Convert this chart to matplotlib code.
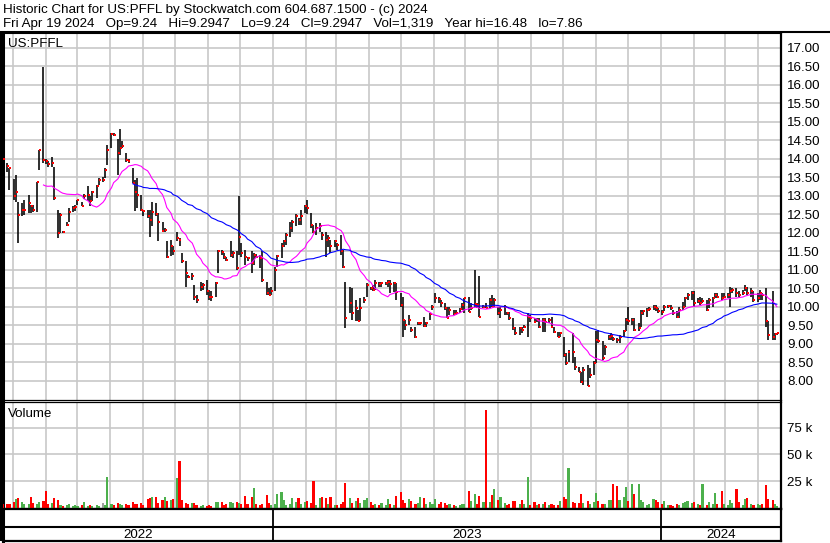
import numpy as np
import pandas as pd
import matplotlib
matplotlib.use("Agg")
import matplotlib.pyplot as plt
import matplotlib.dates as mdates
from matplotlib.patches import Rectangle

plt.rcParams['font.family'] = ['Liberation Sans', 'DejaVu Sans']

# two-day bars, oldest first
high = [14.40, 14.02, 13.89, 13.75, 13.45, 13.58, 12.85, 12.80, 12.90, 13.04,
        12.76, 12.76, 13.38, 14.24, 16.48, 14.00, 13.95, 14.06, 13.77, 12.61,
        12.54, 12.05, 12.30, 12.67, 12.72, 12.75, 12.90, 12.84, 13.05, 13.27,
        13.00, 13.13, 13.30, 13.48, 13.52, 13.75, 14.39, 14.70, 14.70, 14.53,
        14.80, 14.48, 14.17, 13.99, 13.75, 13.43, 13.48, 13.04, 12.63, 12.63,
        12.63, 12.85, 12.81, 12.54, 12.31, 12.13, 11.77, 11.82, 11.64, 12.04,
        11.86, 11.46, 11.23, 10.86, 10.91, 10.60, 10.33, 10.68, 10.65, 10.73,
        10.46, 10.42, 10.68, 11.54, 11.54, 11.45, 11.36, 11.77, 11.50, 11.50,
        13.00, 11.72, 11.54, 11.36, 11.50, 11.45, 11.43, 11.41, 11.50, 10.68,
        10.50, 10.55, 11.09, 11.41, 11.72, 11.81, 12.00, 12.29, 12.36, 12.50,
        12.40, 12.63, 12.76, 12.90, 12.54, 12.22, 12.27, 12.27, 12.04, 12.04,
        11.95, 11.81, 11.81, 11.72, 11.95, 11.54, 10.68, 10.55, 10.50, 10.19,
        9.92, 10.24, 10.28, 10.64, 10.55, 10.60, 10.73, 10.68, 10.68, 10.68,
        10.72, 10.73, 10.68, 10.66, 10.37, 10.28, 9.65, 9.78, 9.47, 9.47,
        9.60, 9.60, 9.74, 9.60, 9.83, 10.05, 10.37, 10.28, 10.19, 10.10,
        10.01, 10.01, 9.92, 9.92, 9.96, 10.10, 10.23, 10.28, 10.10, 11.00,
        10.10, 10.84, 10.05, 10.10, 10.23, 10.32, 10.23, 10.01, 10.01, 10.05,
        9.87, 9.87, 9.69, 9.47, 9.47, 9.47, 9.51, 9.83, 9.78, 9.69,
        9.69, 9.69, 9.69, 9.69, 9.69, 9.74, 9.47, 9.33, 9.33, 9.20,
        8.75, 8.84, 9.29, 8.66, 8.39, 8.25, 8.39, 8.43, 8.34, 8.53,
        9.34, 9.38, 9.07, 8.98, 9.25, 9.29, 9.20, 9.16, 9.25, 9.38,
        9.70, 10.01, 9.70, 9.70, 9.56, 9.92, 9.92, 9.97, 10.01, 10.05,
        10.05, 9.97, 9.92, 10.05, 10.05, 10.05, 9.92, 9.88, 10.01, 10.14,
        10.28, 10.37, 10.42, 10.42, 10.24, 10.28, 10.24, 10.19, 10.24, 10.28,
        10.37, 10.37, 10.37, 10.37, 10.37, 10.55, 10.51, 10.51, 10.42, 10.46,
        10.60, 10.55, 10.51, 10.42, 10.37, 10.46, 10.37, 10.51, 9.61, 10.42,
        9.29, 9.2947]
low = [14.20, 13.75, 13.66, 13.16, 12.90, 12.85, 11.72, 12.45, 12.49, 12.54,
       12.54, 12.58, 12.58, 13.70, 13.90, 13.86, 13.77, 13.77, 12.90, 11.86,
       12.00, 11.99, 12.19, 12.30, 12.58, 12.60, 12.76, 12.72, 12.92, 12.86,
       12.73, 12.86, 12.95, 13.30, 13.39, 13.48, 13.84, 14.30, 14.62, 13.56,
       14.12, 14.30, 13.93, 13.90, 13.34, 12.59, 12.68, 12.59, 12.45, 12.40,
       11.90, 12.18, 12.45, 11.77, 12.04, 12.04, 11.32, 11.37, 11.41, 11.77,
       11.64, 11.18, 10.54, 10.77, 10.72, 10.19, 10.10, 10.42, 10.45, 10.33,
       10.19, 10.15, 10.28, 10.91, 11.41, 11.30, 11.23, 11.36, 11.32, 11.00,
       11.41, 11.36, 11.14, 11.23, 10.91, 11.14, 11.32, 11.05, 10.68, 10.32,
       10.32, 10.32, 10.42, 11.09, 11.32, 11.63, 11.68, 11.90, 12.04, 12.18,
       12.22, 12.22, 12.54, 12.50, 12.13, 12.00, 11.95, 12.04, 11.81, 11.36,
       11.63, 11.45, 11.63, 11.54, 11.41, 11.05, 9.43, 9.83, 9.65, 9.61,
       9.61, 9.61, 10.10, 10.28, 10.46, 10.42, 10.46, 10.55, 10.55, 10.60,
       10.55, 10.37, 10.41, 10.19, 10.01, 9.20, 9.38, 9.51, 9.33, 9.15,
       9.51, 9.51, 9.47, 9.47, 9.65, 9.92, 10.10, 10.10, 10.01, 9.92,
       9.69, 9.78, 9.78, 9.78, 9.83, 9.92, 9.83, 9.87, 9.92, 10.01,
       9.96, 9.74, 9.96, 9.96, 9.96, 10.01, 10.01, 9.78, 9.69, 9.78,
       9.78, 9.65, 9.38, 9.24, 9.24, 9.29, 9.42, 9.20, 9.60, 9.56,
       9.60, 9.42, 9.33, 9.33, 9.56, 9.42, 9.29, 9.20, 9.20, 8.66,
       8.43, 8.52, 8.48, 8.30, 8.25, 7.94, 7.89, 7.86, 8.08, 8.17,
       8.48, 9.02, 8.57, 8.71, 9.11, 9.11, 9.07, 9.02, 9.02, 9.20,
       9.34, 9.52, 9.52, 9.34, 9.34, 9.47, 9.79, 9.74, 9.88, 9.92,
       9.88, 9.83, 9.79, 9.88, 9.97, 9.92, 9.79, 9.70, 9.70, 9.92,
       10.01, 10.19, 10.19, 10.01, 10.10, 10.05, 10.10, 9.88, 9.97, 10.01,
       10.24, 10.24, 10.19, 10.24, 10.24, 10.01, 10.37, 10.28, 10.28, 10.33,
       10.42, 10.33, 10.28, 10.14, 10.14, 10.19, 10.19, 9.47, 9.11, 9.11,
       9.11, 9.24]
close = [14.34, 14.00, 13.80, 13.75, 12.99, 13.10, 12.49, 12.62, 12.63, 12.81,
         12.72, 12.63, 13.38, 14.24, 13.96, 13.95, 13.86, 13.90, 12.94, 12.00,
         12.49, 12.02, 12.21, 12.58, 12.67, 12.70, 12.90, 12.73, 13.00, 13.03,
         12.86, 13.10, 13.26, 13.44, 13.44, 13.70, 14.24, 14.68, 14.66, 14.17,
         14.30, 14.35, 13.98, 13.94, 13.34, 13.12, 13.04, 12.63, 12.59, 12.45,
         12.36, 12.58, 12.50, 12.31, 12.06, 12.09, 11.36, 11.64, 11.50, 11.86,
         11.82, 11.23, 10.91, 10.82, 10.84, 10.28, 10.19, 10.55, 10.60, 10.42,
         10.28, 10.26, 10.64, 11.50, 11.48, 11.35, 11.27, 11.41, 11.45, 11.05,
         11.90, 11.45, 11.36, 11.32, 11.18, 11.41, 11.36, 11.32, 10.73, 10.37,
         10.33, 10.42, 11.00, 11.37, 11.64, 11.77, 11.95, 12.13, 12.31, 12.45,
         12.36, 12.45, 12.72, 12.67, 12.22, 12.04, 12.13, 12.18, 11.95, 11.81,
         11.86, 11.64, 11.77, 11.68, 11.50, 11.09, 9.69, 10.10, 9.83, 9.96,
         9.61, 9.96, 10.19, 10.60, 10.50, 10.46, 10.64, 10.62, 10.64, 10.66,
         10.67, 10.62, 10.64, 10.41, 10.05, 9.65, 9.51, 9.65, 9.38, 9.18,
         9.56, 9.58, 9.49, 9.56, 9.81, 10.01, 10.23, 10.21, 10.10, 9.96,
         9.69, 9.92, 9.81, 9.83, 9.94, 10.05, 10.23, 9.87, 9.96, 10.08,
         10.05, 9.74, 10.01, 9.98, 10.19, 10.01, 10.19, 9.83, 9.92, 10.01,
         9.83, 9.69, 9.42, 9.29, 9.42, 9.38, 9.45, 9.74, 9.69, 9.60,
         9.65, 9.47, 9.65, 9.60, 9.65, 9.47, 9.33, 9.20, 9.29, 8.70,
         8.48, 8.79, 8.77, 8.39, 8.25, 7.98, 8.30, 7.87, 8.16, 8.48,
         9.11, 9.07, 8.62, 8.93, 9.20, 9.22, 9.13, 9.11, 9.20, 9.34,
         9.65, 9.61, 9.65, 9.38, 9.43, 9.83, 9.88, 9.92, 9.94, 10.01,
         9.97, 9.88, 9.86, 10.01, 10.03, 9.97, 9.83, 9.74, 9.92, 10.01,
         10.24, 10.33, 10.37, 10.10, 10.15, 10.12, 10.15, 9.92, 10.19, 10.24,
         10.33, 10.28, 10.24, 10.28, 10.33, 10.42, 10.46, 10.37, 10.33, 10.37,
         10.51, 10.37, 10.42, 10.19, 10.24, 10.37, 10.33, 9.61, 9.25, 9.20,
         9.27, 9.2947]
volume = [10000, 3000, 3000, 3000, 5000, 8000, 9000, 5000, 3000, 3000,
          10000, 4000, 3000, 5000, 6000, 16000, 3000, 4000, 9000, 7000,
          2000, 1000, 2000, 3000, 1000, 2000, 1000, 2000, 5000, 1000,
          2000, 1000, 2000, 1000, 4000, 2000, 29000, 3000, 2000, 4000,
          3000, 2000, 3000, 2000, 5000, 3000, 3000, 4000, 2000, 8000,
          9000, 10000, 10000, 4000, 7000, 10000, 6000, 7000, 8000, 28000,
          44000, 7000, 4000, 3000, 4000, 4000, 2000, 1000, 2000, 1000,
          2000, 1000, 5000, 5000, 5000, 2000, 3000, 5000, 4000, 5000,
          4000, 3000, 11000, 3000, 10000, 18000, 3000, 2000, 3000, 12000,
          4000, 2000, 3000, 13000, 15000, 7000, 2000, 3000, 9000, 5000,
          9000, 3000, 5000, 6000, 4000, 25000, 2000, 9000, 10000, 9000,
          3000, 10000, 2000, 2000, 3000, 5000, 23000, 9000, 4000, 6000,
          9000, 4000, 7000, 9000, 5000, 2000, 3000, 2000, 4000, 2000,
          8000, 3000, 2000, 11000, 15000, 7000, 4000, 8000, 6000, 3000,
          4000, 10000, 9000, 3000, 5000, 3000, 8000, 3000, 5000, 4000,
          2000, 3000, 2000, 1000, 2000, 3000, 3000, 16000, 6000, 13000,
          3000, 11000, 5000, 92000, 5000, 12000, 17000, 7000, 10000, 4000,
          2000, 3000, 6000, 6000, 3000, 7000, 3000, 29000, 2000, 5000,
          2000, 3000, 3000, 5000, 2000, 3000, 2000, 2000, 6000, 10000,
          8000, 37000, 5000, 4000, 4000, 13000, 4000, 6000, 3000, 5000,
          14000, 6000, 3000, 3000, 7000, 7000, 22000, 20000, 7000, 10000,
          19000, 6000, 22000, 13000, 22000, 7000, 5000, 2000, 3000, 8000,
          7000, 5000, 3000, 6000, 2000, 2000, 1000, 3000, 2000, 4000,
          5000, 6000, 4000, 5000, 3000, 2000, 22000, 2000, 5000, 3000,
          14000, 3000, 16000, 3000, 2000, 7000, 4000, 17000, 5000, 2000,
          8000, 9000, 3000, 2000, 3000, 2000, 3000, 21000, 8000, 7000,
          3000, 1319]

price_ticks = np.arange(8.0, 17.01, 0.5)
vol_ticks = [25000, 50000, 75000]
vol_labels = ["25 k", "50 k", "75 k"]
years = ["2022", "2023", "2024"]

title1 = "Historic Chart for US:PFFL by Stockwatch.com 604.687.1500 - (c) 2024"
title2 = ("Fri Apr 19 2024   Op=9.24   Hi=9.2947   Lo=9.24   Cl=9.2947   "
          "Vol=1,319   Year hi=16.48   lo=7.86")

FS = 9.6

dates = pd.bdate_range(end="2024-04-19", periods=len(close), freq="2B")
s = pd.Series(close, index=dates)
ma_short = s.rolling(15).mean()
ma_long = s.rolling(45).mean()

c = np.asarray(close)
prev = np.r_[c[0], c[:-1]]
vol_colors = np.where(c > prev, "#4CB04C", np.where(c < prev, "#FF0000", "#A0A0A0"))

W, H = 830, 543
fig = plt.figure(figsize=(W / 100, H / 100), dpi=100)
fig.patch.set_facecolor("white")

def frac(x0, y0, x1, y1):
    return [x0 / W, 1 - y1 / H, (x1 - x0) / W, (y1 - y0) / H]

ax = fig.add_axes(frac(3, 33, 781, 400))
axv = fig.add_axes(frac(3, 402, 781, 509))
axd = fig.add_axes(frac(3, 509, 781, 541))

x0 = pd.Timestamp("2022-04-21 22:00")
x1 = pd.Timestamp("2024-04-22 22:00")
grid_kw = dict(color="#C8C8C8", lw=1.2)

for a in (ax, axv, axd):
    a.set_xlim(x0, x1)
    a.xaxis.set_major_locator(mdates.MonthLocator())
    a.tick_params(axis="x", length=0, labelbottom=False)
    a.set_axisbelow(True)

# price panel
ax.vlines(dates, low, high, colors="black", lw=1.15, zorder=3)
ax.plot(dates + pd.Timedelta(hours=22), close, "s", color="red", ms=1.7, mew=0, zorder=4)
ax.plot(ma_short.index, ma_short.values, color="#FF00FF", lw=0.8, zorder=5)
ax.plot(ma_long.index, ma_long.values, color="#0000FF", lw=0.8, zorder=5)
ax.set_ylim(7.486, 17.405)
ax.set_yticks(price_ticks)
ax.set_yticklabels([f"{v:.2f}" for v in price_ticks])
ax.yaxis.tick_right()
ax.tick_params(axis="y", length=0, pad=4.5, labelsize=FS)
ax.grid(True, **grid_kw)
ax.text(0.0065, 0.962, "US:PFFL", transform=ax.transAxes, fontsize=FS, va="baseline")

# volume panel
axv.bar(dates, volume, width=2.0, color=vol_colors, linewidth=0, zorder=3)
axv.set_ylim(-1400, 99500)
axv.set_yticks(vol_ticks)
axv.set_yticklabels(vol_labels)
axv.yaxis.tick_right()
axv.tick_params(axis="y", length=0, pad=4.5, labelsize=FS)
axv.grid(True, **grid_kw)
axv.text(0.0065, 0.86, "Volume", transform=axv.transAxes, fontsize=FS, va="baseline")

# date strip
axd.set_ylim(0, 1)
axd.set_yticks([])
axd.axhline(14 / 32, color="black", lw=1.5)
bounds = [mdates.date2num(x0), mdates.date2num(pd.Timestamp("2023-01-01")),
          mdates.date2num(pd.Timestamp("2024-01-01")), mdates.date2num(x1)]
for b in bounds[1:3]:
    axd.axvline(b, color="black", lw=1.3)
for i, yr in enumerate(years):
    axd.text((bounds[i] + bounds[i + 1]) / 2, 0.2, yr, ha="center", va="center", fontsize=FS)

for a in (ax, axv, axd):
    for sp in a.spines.values():
        sp.set_color("black")
    a.spines["left"].set_linewidth(2.2)
    a.spines["right"].set_linewidth(1.6)
ax.spines["top"].set_linewidth(1.5)
ax.spines["bottom"].set_linewidth(0.9)
axv.spines["top"].set_linewidth(0.9)
axv.spines["bottom"].set_linewidth(1.6)
axd.spines["top"].set_linewidth(1.6)
axd.spines["bottom"].set_linewidth(1.6)

fig.add_artist(plt.Line2D([0, 1], [1 - 31.5 / H] * 2, transform=fig.transFigure,
                          color="black", lw=1.5))
fig.add_artist(Rectangle((0, 1 - 541 / H), 2.5 / W, 510 / H, transform=fig.transFigure,
                         color="black", lw=0))

fig.text(3 / W, 1 - 13.5 / H, title1, fontsize=FS, va="baseline")
fig.text(3 / W, 1 - 27.5 / H, title2, fontsize=FS, va="baseline")

fig.savefig("out.png", dpi=100)
